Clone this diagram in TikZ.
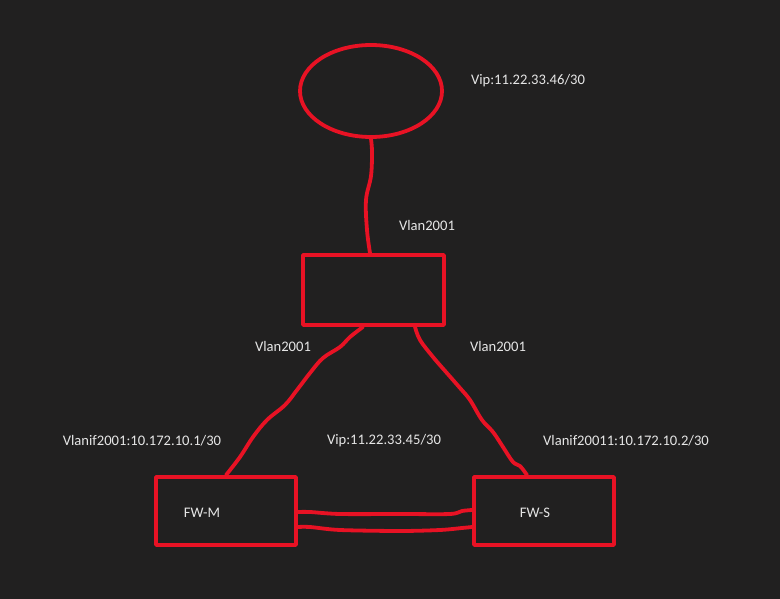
\documentclass[tikz,border=0pt]{standalone}
\usepackage{fontspec}
\setmainfont{Carlito}
\usetikzlibrary{shapes.geometric}
\definecolor{bg}{HTML}{212020}
\definecolor{lred}{HTML}{E81224}
\definecolor{txt}{HTML}{E6E6E6}
\begin{document}
\begin{tikzpicture}[x=1pt,y=-1pt,
  redline/.style={draw=lred,line width=3.8pt,line cap=round,line join=round},
  boxnode/.style={redline,rectangle,inner sep=0pt},
  lbl/.style={text=txt,font=\fontsize{14.6}{17}\selectfont,inner sep=0pt,anchor=center}]
\fill[bg] (0,0) rectangle (780,599);
\useasboundingbox (0,0) rectangle (780,599);

\node[redline,ellipse,inner sep=0pt,minimum width=142pt,minimum height=92pt] (ell) at (371,91) {};
\node[boxnode,minimum width=141pt,minimum height=70pt] (sw) at (373.5,290) {};
\node[boxnode,minimum width=140pt,minimum height=68pt] (fwm) at (226,511) {};
\node[boxnode,minimum width=140pt,minimum height=68pt] (fws) at (544,511) {};

\node[lbl] (fwmt) at (202,513) {FW-M};
\node[lbl] (fwst) at (535,513) {FW-S};
\node[lbl] (vip1) at (528,81) {Vip:11.22.33.46/30};
\node[lbl] (vl0) at (427,225) {Vlan2001};
\node[lbl] (vl1) at (283,346) {Vlan2001};
\node[lbl] (vl2) at (498,346) {Vlan2001};
\node[lbl] (ifm) at (142,441) {Vlanif2001:10.172.10.1/30};
\node[lbl] (vip2) at (384,441) {Vip:11.22.33.45/30};
\node[lbl] (ifs) at (626,441) {Vlanif20011:10.172.10.2/30};

\draw[redline] plot[smooth,tension=0.6] coordinates {(ell.south) (372,152) (371,176) (366,200) (367,230) ([xshift=-3.5pt]sw.north)};
\draw[redline] plot[smooth,tension=0.6] coordinates {([xshift=-10.5pt]sw.south) (350,337) (340,347) (323,358) (310,373) (297,390) (285,405) (267,420) (253,437) (240,457) (fwm.north)};
\draw[redline] plot[smooth,tension=0.6] coordinates {([xshift=41.5pt]sw.south) (420,340) (433,357) (446,372) (460,388) (470,400) (482,420) (493,432) (503,447) (513,462) (520,466) ([xshift=-17pt]fws.north)};
\draw[redline] plot[smooth,tension=0.5] coordinates {([yshift=-1pt]fwm.east) (310,512) (340,514) (400,514) (450,514) (462,511) ([yshift=1pt]fws.west)};
\draw[redline] plot[smooth,tension=0.5] coordinates {([yshift=-16pt]fwm.east) (310,527) (340,530) (400,531) (440,530) (462,528) ([yshift=-16pt]fws.west)};
\end{tikzpicture}
\end{document}
